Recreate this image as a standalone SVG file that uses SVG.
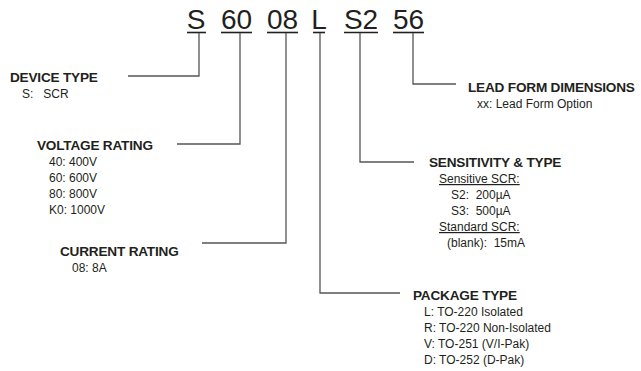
<svg xmlns="http://www.w3.org/2000/svg" width="641" height="371" viewBox="0 0 641 371">
<style>
text{font-family:"Liberation Sans",Arial,sans-serif;fill:#231f20}
.code{font-size:28px}
.h{font-size:13.6px;font-weight:bold;letter-spacing:-0.2px}
.t{font-size:12px}
.u{text-decoration:underline}
.ul{stroke:#231f20;stroke-width:1.6}
.c{fill:none;stroke:#555;stroke-width:1.3}
</style>
<rect width="641" height="371" fill="#fff"/>
<g id="code">
<text class="code" x="196" y="29" text-anchor="middle">S</text>
<text class="code" x="236.5" y="29" text-anchor="middle">60</text>
<text class="code" x="282.5" y="29" text-anchor="middle">08</text>
<text class="code" x="319" y="29" text-anchor="middle">L</text>
<text class="code" x="361" y="29" text-anchor="middle">S2</text>
<text class="code" x="408.5" y="29" text-anchor="middle">56</text>
<line class="ul" x1="187" y1="32.5" x2="206" y2="32.5"/>
<line class="ul" x1="221" y1="32.5" x2="252" y2="32.5"/>
<line class="ul" x1="267" y1="32.5" x2="298" y2="32.5"/>
<line class="ul" x1="313" y1="32.5" x2="325" y2="32.5"/>
<line class="ul" x1="344" y1="32.5" x2="378" y2="32.5"/>
<line class="ul" x1="393" y1="32.5" x2="424" y2="32.5"/>
</g>
<g id="connectors">
<path class="c" d="M128,76 H199 V33"/>
<path class="c" d="M177,144 H240 V33"/>
<path class="c" d="M202,243 H286 V33"/>
<path class="c" d="M320,33 V293 H400"/>
<path class="c" d="M360,33 V162 H414"/>
<path class="c" d="M413,33 V84 H456"/>
</g>
<g id="device-type">
<text class="h" x="10" y="82">DEVICE TYPE</text>
<text class="t" x="22" y="98" xml:space="preserve">S:   SCR</text>
</g>
<g id="voltage-rating">
<text class="h" x="37" y="150">VOLTAGE RATING</text>
<text class="t" x="49" y="166">40: 400V</text>
<text class="t" x="49" y="182">60: 600V</text>
<text class="t" x="49" y="198">80: 800V</text>
<text class="t" x="49" y="214">K0: 1000V</text>
</g>
<g id="current-rating">
<text class="h" x="60" y="256">CURRENT RATING</text>
<text class="t" x="72" y="272">08: 8A</text>
</g>
<g id="lead-form">
<text class="h" x="468" y="92">LEAD FORM DIMENSIONS</text>
<text class="t" x="477" y="108">xx: Lead Form Option</text>
</g>
<g id="sensitivity">
<text class="h" x="429" y="167">SENSITIVITY &amp; TYPE</text>
<text class="t u" x="439" y="183">Sensitive SCR:</text>
<text class="t" x="451" y="199" xml:space="preserve">S2:  200µA</text>
<text class="t" x="451" y="215" xml:space="preserve">S3:  500µA</text>
<text class="t u" x="439" y="231">Standard SCR:</text>
<text class="t" x="447" y="247" xml:space="preserve">(blank):  15mA</text>
</g>
<g id="package-type">
<text class="h" x="413" y="300">PACKAGE TYPE</text>
<text class="t" x="424" y="316">L: TO-220 Isolated</text>
<text class="t" x="424" y="332">R: TO-220 Non-Isolated</text>
<text class="t" x="424" y="348">V: TO-251 (V/I-Pak)</text>
<text class="t" x="424" y="364">D: TO-252 (D-Pak)</text>
</g>
</svg>
